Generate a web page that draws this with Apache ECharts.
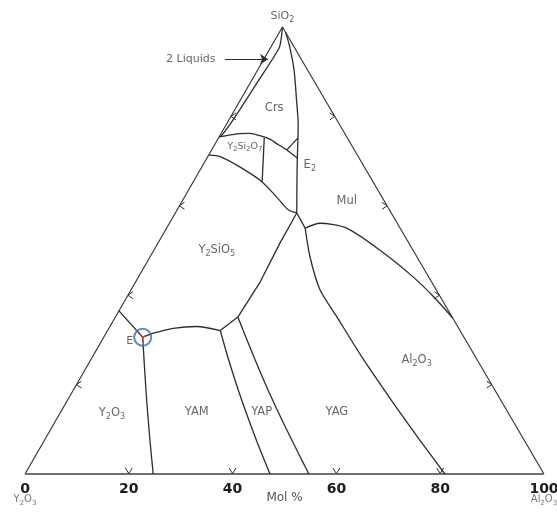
<!DOCTYPE html>
<html>
<head>
<meta charset="utf-8">
<script src="https://cdn.jsdelivr.net/npm/echarts@6/dist/echarts.min.js"></script>
<style>
  html, body { margin: 0; padding: 0; background: #fff; }
  #chart { width: 557px; height: 512px; }
</style>
</head>
<body>
<div id="chart"></div>
<script>
// Y2O3 - Al2O3 - SiO2 liquidus projection.
// Every point is a composition [Al2O3 mol%, SiO2 mol%]; Y2O3 is the remainder.

const baseTicks = [0, 20, 40, 60, 80, 100];
const edgeMarks = [20, 40, 60, 80];

const vertexY2O3 = [0, 0];
const vertexAl2O3 = [100, 0];
const vertexSiO2 = [0, 100];

const twoLiquidLine = [[0, 100], [0.9, 97.8], [1.7, 95.3], [1.3, 87.5], [0.85, 79.9], [0.35, 75.8], [0, 75.4]];
const crsY2Si2O7 = [[0, 75.4], [3.1, 76.1], [5.5, 76.2], [7.7, 75.7], [10.0, 74.9], [12.4, 73.6], [14.5, 72.5]];
const e2Upper = [[14.5, 72.5], [15.3, 75.2]];
const e2Lower = [[14.5, 72.5], [17.4, 70.7]];
const crsMul = [[1.2, 98.8], [3.3, 96.0], [7.0, 90.4], [10.8, 83.7], [13.9, 78.1], [15.3, 75.2], [17.4, 70.7], [20.3, 64.7], [23.4, 58.4]];
const y2si2o7Lower = [[0, 71.4], [2.4, 71.0], [7.3, 68.7], [13.2, 65.4], [17.7, 62.0], [21.4, 59.1], [23.4, 58.4]];
const y2si2o7Inner = [[8.8, 75.2], [13.3, 65.3]];
const y2sio5Right = [[23.4, 58.4], [23.5, 51.7], [24.0, 43.0], [23.6, 35.1]];
const junctionLink = [[23.4, 58.4], [26.7, 55.0]];
const mulAl2o3 = [[26.7, 55.0], [29.0, 56.1], [34.7, 55.0], [43.5, 50.1], [52.9, 44.1], [59.0, 39.7], [65.1, 34.9]];
const yagAl2o3 = [[26.7, 55.0], [30.8, 48.6], [36.4, 41.2], [42.6, 35.2], [51.9, 26.2], [62.3, 16.6], [72.3, 7.6], [80.9, 0]];
const edgeToE1 = [[0, 36.5], [7.5, 30.6]];
const y2o3Yam = [[7.5, 30.6], [11.5, 23.3], [15.2, 16.6], [20.3, 7.6], [24.7, 0]];
const e1Curve = [[7.5, 30.6], [9.1, 31.5], [12.4, 32.6], [16.7, 33.0], [21.7, 32.1]];
const shortLink = [[21.7, 32.1], [23.6, 35.1]];
const yamYap = [[21.7, 32.1], [26.6, 25.5], [33.5, 16.6], [40.8, 7.6], [47.2, 0]];
const yapYag = [[23.6, 35.1], [27.9, 30.0], [31.7, 25.5], [37.5, 18.8], [44.5, 11.0], [51.8, 3.1], [54.7, 0]];

const pointE1 = [7.5, 30.6];
const liquidsArrow = [[-7.5, 92.8], [0.8, 92.8]];

const fieldNames = ['Crs', 'Y_2Si_2O_7', 'E_2', 'Mul', 'Y_2SiO_5', 'Al_2O_3', 'Y_2O_3', 'YAM', 'YAP', 'YAG', 'E'];
const fieldSpots = [[7.4, 81.9], [6.0, 73.3], [20.6, 69.1], [31.7, 61.1], [12.1, 50.1], [62.8, 25.5], [10.0, 13.6], [26.2, 13.9], [38.7, 13.9], [53.2, 13.9], [5.4, 29.8]];

// ---- drawing ----
const SKEW = 0.496;                       // horizontal offset of the SiO2 apex
const toXY = ([a, s]) => [a + SKEW * s, s];
const FONT = 'DejaVu Sans';
const INK = '#2d2d2d';
const TEXT = '#3c3c3c';

function rich(size, color) {
  const sub = Math.round(size * 0.7);
  return {
    n: { fontSize: size, lineHeight: size + 4, color: color, fontFamily: FONT },
    s: { fontSize: sub, lineHeight: sub, verticalAlign: 'bottom', color: color, fontFamily: FONT }
  };
}
function markup(str) {
  return str.split(/(_\d)/).filter(t => t.length).map(t =>
    t[0] === '_' ? '{s|' + t.slice(1) + '}' : '{n|' + t + '}').join('');
}

function boundary(pts, smooth) {
  return {
    type: 'line', data: pts.map(toXY), smooth: smooth ? 0.25 : false,
    showSymbol: false, symbol: 'none', clip: false, silent: true, z: 3,
    lineStyle: { color: INK, width: 1.3 }
  };
}

function textItem(pos, str, size, position, distance, color) {
  return {
    value: toXY(pos),
    label: {
      show: true, position: position || 'inside', distance: distance || 0,
      formatter: markup(str), rich: rich(size, color || TEXT)
    }
  };
}

const sizes = { 'Y_2Si_2O_7': 9.5, 'E': 11 };
const labelData = fieldNames.map((n, i) => textItem(fieldSpots[i], n, sizes[n] || 11.5));
labelData.push(textItem(vertexSiO2, 'SiO_2', 11, 'top', 3));
labelData.push(textItem(vertexY2O3, 'Y_2O_3', 10, 'bottom', 18, '#555'));
labelData.push(textItem(vertexAl2O3, 'Al_2O_3', 10, 'bottom', 18, '#555'));
labelData.push(textItem(liquidsArrow[0], '2 Liquids', 11, 'left', 9));

const markData = []
  .concat(edgeMarks.map(v => toXY([v, 0]).concat(0)))
  .concat(edgeMarks.map(v => toXY([0, v]).concat(1)))
  .concat(edgeMarks.map(v => toXY([100 - v, v]).concat(2)));

// the three boundaries meeting at E1, used for the short red spokes inside the marker
const e1Neighbours = [edgeToE1[0], y2o3Yam[1], e1Curve[1]];

const chart = echarts.init(document.getElementById('chart'), null, { renderer: 'canvas' });
chart.setOption({
  animation: false,
  backgroundColor: '#fff',
  grid: { left: 25, right: 13, top: 27, bottom: 38, containLabel: false, outerBoundsMode: 'none' },
  xAxis: {
    type: 'value', min: baseTicks[0], max: baseTicks[baseTicks.length - 1], interval: 20,
    axisLine: { show: false }, axisTick: { show: false }, splitLine: { show: false },
    axisLabel: { fontFamily: FONT, fontWeight: 'bold', fontSize: 14, color: '#1c1c1c', margin: 8, showMinLabel: true, showMaxLabel: true },
    name: 'Mol %', nameLocation: 'middle', nameGap: 18, nameMoveOverlap: false,
    nameTextStyle: { fontFamily: FONT, fontSize: 12, color: '#555' }
  },
  yAxis: { type: 'value', min: 0, max: 100, show: false },
  series: [
    // triangle frame
    Object.assign(boundary([vertexY2O3, vertexSiO2, vertexAl2O3]), { lineStyle: { color: '#3a3a3a', width: 1.2 } }),
    Object.assign(boundary([vertexY2O3, vertexAl2O3]), { lineStyle: { color: '#707070', width: 2 } }),
    // phase boundaries
    boundary(twoLiquidLine, true),
    boundary(crsY2Si2O7, true),
    boundary(e2Upper),
    boundary(e2Lower),
    boundary(crsMul, true),
    boundary(y2si2o7Lower, true),
    boundary(y2si2o7Inner),
    boundary(y2sio5Right),
    boundary(junctionLink),
    boundary(mulAl2o3, true),
    boundary(yagAl2o3, true),
    boundary(edgeToE1),
    boundary(y2o3Yam, true),
    boundary(e1Curve, true),
    boundary(shortLink),
    boundary(yamYap, true),
    boundary(yapYag, true),
    // edge marks
    {
      type: 'custom', data: markData, silent: true, clip: false, z: 4,
      renderItem: function (params, api) {
        const p = api.coord([api.value(0), api.value(1)]);
        const d = api.value(2);
        let pts;
        if (d === 0) pts = [[p[0] - 3.5, p[1] - 6], [p[0], p[1] - 0.5], [p[0] + 3.5, p[1] - 6]];
        else if (d === 1) pts = [[p[0] + 5, p[1] - 3.5], [p[0], p[1]], [p[0] + 5, p[1] + 3.5]];
        else pts = [[p[0] - 5, p[1] - 3.5], [p[0], p[1]], [p[0] - 5, p[1] + 3.5]];
        return { type: 'polyline', shape: { points: pts }, style: { stroke: INK, lineWidth: 1, fill: 'none' } };
      }
    },
    // red spokes at E1
    {
      type: 'custom', data: [toXY(pointE1)], silent: true, clip: false, z: 5,
      renderItem: function (params, api) {
        const c = api.coord([api.value(0), api.value(1)]);
        const children = e1Neighbours.map(function (q) {
          const n = api.coord(toXY(q));
          const dx = n[0] - c[0], dy = n[1] - c[1];
          const len = Math.sqrt(dx * dx + dy * dy) || 1;
          return {
            type: 'line',
            shape: { x1: c[0], y1: c[1], x2: c[0] + dx / len * 4.5, y2: c[1] + dy / len * 4.5 },
            style: { stroke: '#b5473c', lineWidth: 1.3 }
          };
        });
        return { type: 'group', children: children };
      }
    },
    // arrow pointing at the two-liquid region
    {
      type: 'lines', coordinateSystem: 'cartesian2d', silent: true, z: 4,
      symbol: ['none', 'arrow'], symbolSize: 8,
      lineStyle: { color: INK, width: 1.2, opacity: 1 },
      data: [{ coords: liquidsArrow.map(toXY) }]
    },
    // E1 marker
    {
      type: 'scatter', data: [toXY(pointE1)], symbol: 'circle', symbolSize: 17, silent: true, z: 6, clip: false,
      itemStyle: { color: 'rgba(0,0,0,0)', borderColor: '#3c6db5', borderWidth: 2 }
    },
    // text
    {
      type: 'scatter', data: labelData, symbolSize: 1, silent: true, z: 5, clip: false,
      itemStyle: { color: 'rgba(0,0,0,0)' }
    }
  ]
});
</script>
</body>
</html>
